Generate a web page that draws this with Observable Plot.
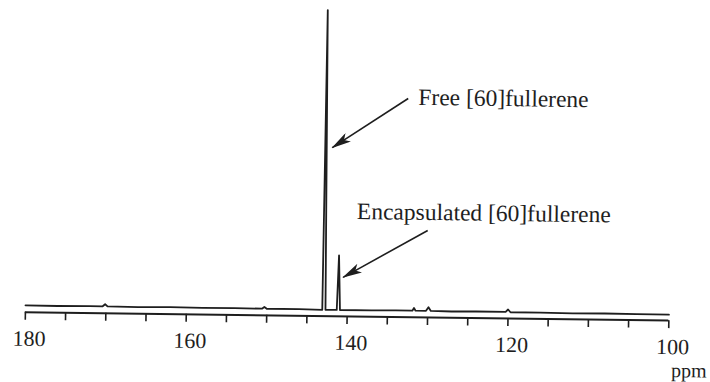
<!DOCTYPE html>
<html>
<head>
<meta charset="utf-8">
<script src="https://cdn.jsdelivr.net/npm/d3@7"></script>
<script src="https://cdn.jsdelivr.net/npm/@observablehq/plot@0.6"></script>
<style>
  html, body { margin: 0; padding: 0; background: #fff; overflow: hidden; }
  #chart svg { display: block; transform: rotate(0.75deg); transform-origin: 355px 191px; }
</style>
</head>
<body>
<div id="chart"></div>
<script>
// 13C NMR spectrum (ppm, relative intensity)
const ppm = [180, 176, 172, 170.4, 170.1, 169.8, 166, 162, 158, 154, 150.6, 150.3, 150.0, 146, 143.1, 142.9, 142.7, 141.3, 141.1, 140.9, 137, 134, 131.9, 131.7, 131.5, 130.2, 129.9, 129.6, 127, 124, 120.3, 120.0, 119.7, 116, 112, 108, 104, 100];
const intensity = [0.003, 0.002, 0.003, 0.003, 0.01, 0.003, 0.002, 0.003, 0.002, 0.003, 0.002, 0.008, 0.002, 0.002, 0.001, 1.0, 0.001, 0.001, 0.183, 0.001, 0.001, 0.002, 0.002, 0.011, 0.002, 0.002, 0.014, 0.002, 0.001, 0.002, 0.002, 0.01, 0.001, 0.001, 0.0, 0.001, 0.0, 0.0];

// axis ticks
const minorTicks = d3.range(100, 181, 5);
const majorTicks = [180, 160, 140, 120, 100];
const axisLabel = ["ppm"];

// annotations
const annoLabels = ["Free [60]fullerene", "Encapsulated [60]fullerene"];
const annoTextPpm = [131.5, 138.95];
const annoTextInt = [0.713, 0.33];
const arrowFromPpm = [132.76, 130.12];
const arrowFromInt = [0.709, 0.27];
const arrowToPpm = [142.12, 140.56];
const arrowToInt = [0.542, 0.11];

const spectrum = ppm.map((p, i) => ({ppm: p, y: intensity[i]}));
const annos = annoLabels.map((t, i) => ({
  text: t, tx: annoTextPpm[i], ty: annoTextInt[i],
  x1: arrowFromPpm[i], y1: arrowFromInt[i], x2: arrowToPpm[i], y2: arrowToInt[i]
}));

const ink = "#1e1e1e";
const font = "'Liberation Serif', 'DejaVu Serif', serif";

const chart = Plot.plot({
  width: 710,
  height: 382,
  marginLeft: 26.5,
  marginRight: 40,
  marginTop: 10,
  marginBottom: 66,
  style: {background: "#fff", fontFamily: font, color: ink, overflow: "visible"},
  x: {domain: [180, 100], axis: null},
  y: {domain: [-0.02, 1], axis: null},
  marks: [
    Plot.ruleY([-0.02], {x1: 180, x2: 100, stroke: ink, strokeWidth: 2}),
    Plot.axisX({ticks: minorTicks, tickSize: 8, tickFormat: () => "", stroke: ink, strokeWidth: 1.6}),
    Plot.axisX({ticks: majorTicks, tickSize: 0, tickPadding: 18, dx: 4, fontSize: 22, fontFamily: font, fill: ink}),
    Plot.text(axisLabel, {x: 100, y: -0.02, text: d => d, dx: 3, dy: 50, textAnchor: "start", fontSize: 20, fontFamily: font, fill: ink}),
    Plot.line(spectrum, {x: "ppm", y: "y", stroke: ink, strokeWidth: 1.8, curve: "linear"}),
    Plot.link(annos, {x1: "x1", y1: "y1", x2: "x2", y2: "y2", stroke: ink, strokeWidth: 1.6, className: "anno-arrow"}),
    Plot.text(annos, {x: "tx", y: "ty", text: "text", textAnchor: "start", fontSize: 23.5, fontFamily: font, fill: ink})
  ]
});

// filled arrowheads for the annotation arrows
const svg = d3.select(chart);
svg.insert("defs", ":first-child")
  .append("marker")
  .attr("id", "fillhead")
  .attr("markerUnits", "userSpaceOnUse")
  .attr("viewBox", "0 0 20 10")
  .attr("markerWidth", 20)
  .attr("markerHeight", 10)
  .attr("refX", 19)
  .attr("refY", 5)
  .attr("orient", "auto")
  .append("path")
  .attr("d", "M0,0 L20,5 L0,10 L5,5 Z")
  .attr("fill", ink);
svg.selectAll(".anno-arrow path").attr("marker-end", "url(#fillhead)");

document.getElementById("chart").appendChild(chart);
</script>
</body>
</html>
